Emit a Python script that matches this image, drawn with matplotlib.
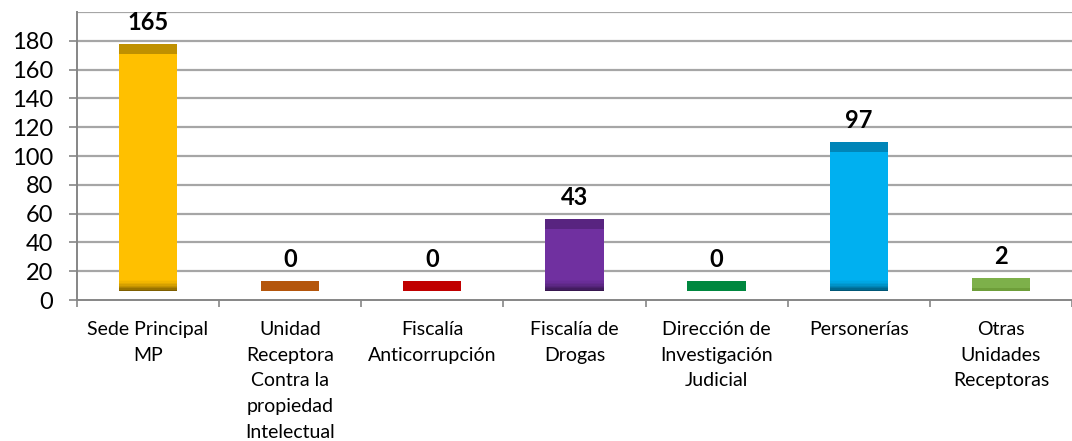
import numpy as np
import matplotlib.pyplot as plt

plt.rcParams['font.family'] = ['Lato', 'DejaVu Sans']

# Données
categorias = ["Sede Principal\nMP", "Unidad\nReceptora\nContra la\npropiedad\nIntelectual",
              "Fiscalía\nAnticorrupción", "Fiscalía de\nDrogas", "Dirección de\nInvestigación\nJudicial",
              "Personerías", "Otras\nUnidades\nReceptoras"]
valores = [165, 0, 0, 43, 0, 97, 2]
colores = ["#FFC000", "#B4560C", "#C00000", "#7030A0", "#00873F", "#00B0F0", "#6E9E3A"]
colores_tapa = ["#BF9000", "#B4560C", "#C00000", "#582480", "#00873F", "#0085B8", "#7DB04A"]
yticks = [0, 20, 40, 60, 80, 100, 120, 140, 160, 180]

BASE = 6      # suelo del efecto 3D
TAPA = 7      # alto de la tapa superior
ANCHO = 0.41

fig = plt.figure(figsize=(10.72, 4.41), dpi=100)
ax = fig.add_axes([0.0718, 0.3197, 0.9282, 0.6531])

x = np.arange(len(valores))
v = np.array(valores, dtype=float)

# cuerpo
ax.bar(x, v, ANCHO, bottom=BASE, color=colores, zorder=3)
# sombreado inferior (degradado hacia abajo)
con_cuerpo = v > 4
for k in range(8):
    ax.bar(x[con_cuerpo], 1.0, ANCHO, bottom=BASE + k,
           color="black", alpha=0.5 * (1 - k / 8) ** 1.6, zorder=4, linewidth=0)
# tapa
ax.bar(x, TAPA, ANCHO, bottom=BASE + v, color=colores_tapa, zorder=3)

for xi, vi in zip(x, valores):
    ax.text(xi, vi + 28, str(vi), ha="center", va="center", fontsize=17,
            fontweight="bold", color="black", zorder=5)

ax.set_xlim(-0.5, len(valores) - 0.5)
ax.set_ylim(0, 200)
ax.set_yticks(yticks)
ax.set_yticklabels([str(t) for t in yticks], fontsize=17)
ax.set_xticks(x)
ax.set_xticklabels(categorias, fontsize=14, linespacing=1.63, va="top")
ax.set_xticks(np.arange(-0.5, len(valores) + 0.5), minor=True)
ax.tick_params(axis="x", which="major", length=0, pad=15)
ax.tick_params(axis="x", which="minor", length=5, color="#868686", width=1.2)
ax.tick_params(axis="y", length=6, color="#868686", width=1.2, pad=11)

for t in yticks[1:] + [200]:
    ax.axhline(t, color="#A6A6A6", linewidth=1.6, zorder=1)

for s in ["top", "right"]:
    ax.spines[s].set_visible(False)
ax.spines["left"].set_color("#868686")
ax.spines["bottom"].set_color("#868686")
ax.spines["left"].set_linewidth(1.4)
ax.spines["bottom"].set_linewidth(1.4)

fig.savefig("out.png", dpi=100)
